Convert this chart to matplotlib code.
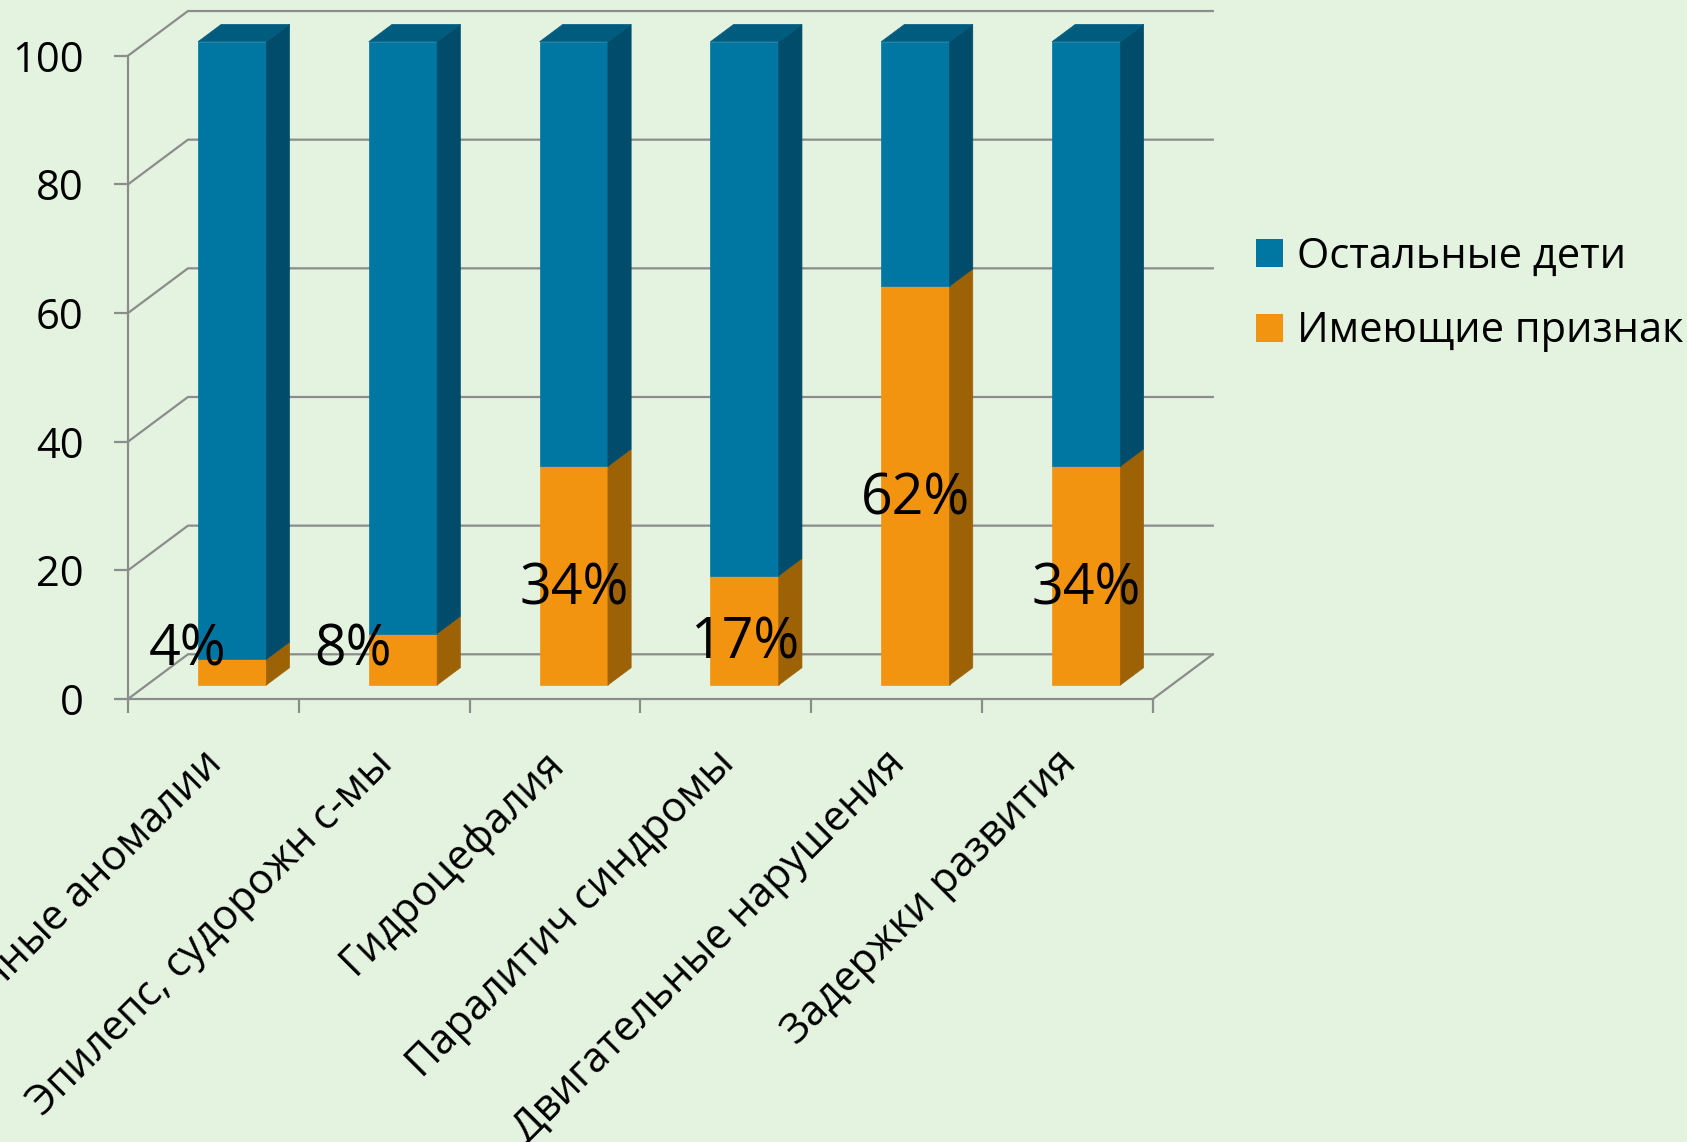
import numpy as np
import matplotlib.pyplot as plt
from matplotlib.patches import Polygon, Patch

plt.rcParams['font.family'] = ['Open Sans', 'DejaVu Sans']

# data
categories = ["Врожденные аномалии", "Эпилепс, судорожн с-мы", "Гидроцефалия",
              "Паралитич синдромы", "Двигательные нарушения", "Задержки развития"]
with_sign = np.array([4, 8, 34, 17, 62, 34])      # Имеющие признак, %
others = 100 - with_sign                           # Остальные дети, %
series_names = ["Остальные дети", "Имеющие признак"]
yticks = [0, 20, 40, 60, 80, 100]

# colours
bg = "#E3F3DF"
grid_c = "#8C8C8C"
blue = ("#0077A2", "#004C6A", "#005C7F")     # front, side, top
orange = ("#F39410", "#9E6206", "#C87A0C")

# fake depth: offset of the back wall in data units
DX, DY = 0.351, 6.95
Z0, Z1 = 0.313, 0.70
HALF = 0.2


def proj(x, v, z):
    return (x + DX * z, v + DY * z)


fig = plt.figure(figsize=(16.87, 11.42), dpi=100, facecolor=bg)
ax = fig.add_axes([128 / 1687, 1 - 699 / 1142, (1212.8 - 128) / 1687, (699 - 10.7) / 1142])
ax.set_facecolor("none")
ax.set_xlim(0, 6 + DX)
ax.set_ylim(0, 107)
for s in ax.spines.values():
    s.set_visible(False)

n = len(categories)
lw = 1.6

# walls and floor
for v in yticks:
    x0, y0 = proj(0, v, 0)
    x1, y1 = proj(0, v, 1)
    x2, y2 = proj(n, v, 1)
    ax.plot([x0, x1, x2], [y0, y1, y2], color=grid_c, lw=lw, clip_on=False, zorder=1)
ax.plot([0, n], [0, 0], color=grid_c, lw=lw, clip_on=False, zorder=1)
ax.plot(*zip(proj(n, 0, 0), proj(n, 0, 1)), color=grid_c, lw=lw, clip_on=False, zorder=1)
ax.plot([0, 0], [0, 100], color=grid_c, lw=lw, clip_on=False, zorder=1)


def box(c, v0, v1, cols, top=False):
    l, r = c - HALF, c + HALF
    front = [proj(l, v0, Z0), proj(r, v0, Z0), proj(r, v1, Z0), proj(l, v1, Z0)]
    side = [proj(r, v0, Z0), proj(r, v0, Z1), proj(r, v1, Z1), proj(r, v1, Z0)]
    faces = [(front, cols[0]), (side, cols[1])]
    if top:
        faces.append(([proj(l, v1, Z0), proj(r, v1, Z0), proj(r, v1, Z1), proj(l, v1, Z1)], cols[2]))
    for pts, fc in faces:
        ax.add_patch(Polygon(pts, closed=True, facecolor=fc, edgecolor=fc, lw=0.5,
                             clip_on=False, zorder=3))


for i in range(n):
    c = i + 0.5
    box(c, 0, with_sign[i], orange)
    box(c, with_sign[i], with_sign[i] + others[i], blue, top=True)

# value labels
label_dx = [-0.26, -0.29, 0, 0, 0, 0]
for i, v in enumerate(with_sign):
    lx, _ = proj(i + 0.5 + label_dx[i], 0, Z0)
    ax.text(lx, max(v / 2, 7.5), f"{v}%", fontsize=40, ha="center", va="center", zorder=5)

# axes ticks
ax.set_yticks(yticks)
ax.tick_params(axis="y", length=10, width=lw, color=grid_c, pad=22, labelsize=30)
ax.set_xticks(range(n + 1))
ax.set_xticklabels([])
ax.tick_params(axis="x", length=10, width=lw, color=grid_c)

for i, name in enumerate(categories):
    ax.text(i + 0.5 + 0.06, -10.3, name, fontsize=30, rotation=45,
            rotation_mode="anchor", ha="right", va="baseline", clip_on=False)

handles = [Patch(facecolor=blue[0]), Patch(facecolor=orange[0])]
fig.legend(handles, series_names, loc="upper left", bbox_to_anchor=(1256 / 1687, 1 - 236 / 1142),
           frameon=False, fontsize=30, handlelength=0.65, handleheight=0.65,
           handletextpad=0.33, labelspacing=0.78, borderpad=0, borderaxespad=0)

fig.savefig("out.png", dpi=100, facecolor=bg)
